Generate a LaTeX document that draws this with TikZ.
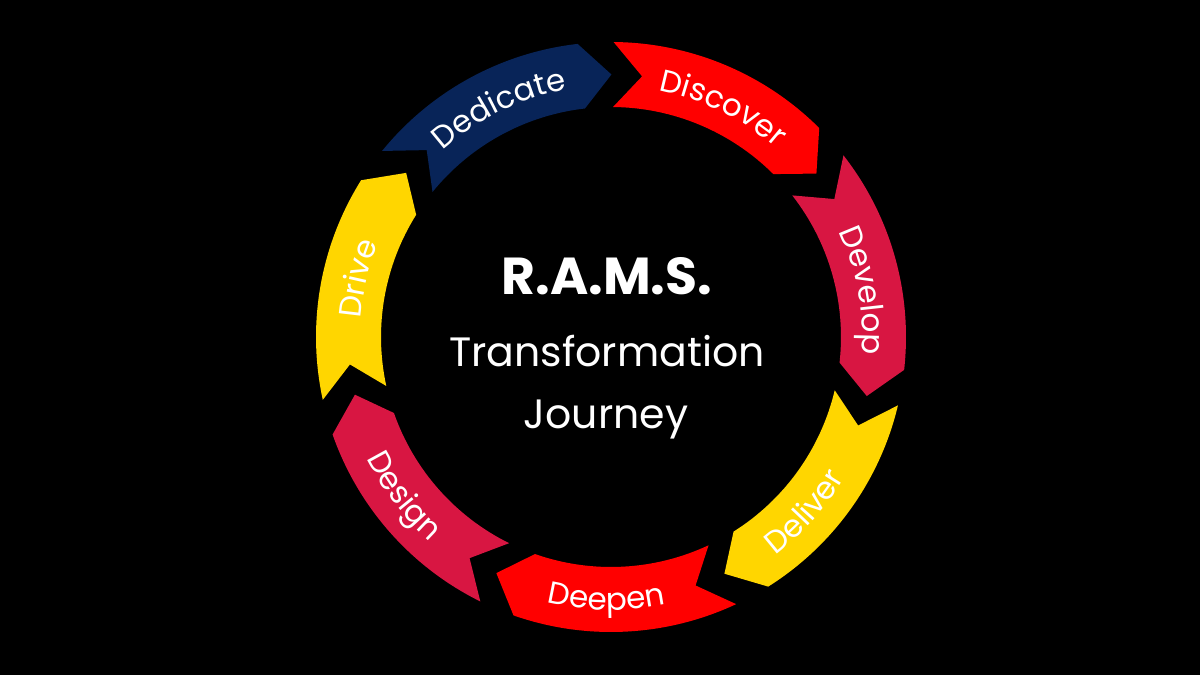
\documentclass[tikz,border=0pt]{standalone}
\usepackage{fontspec}
\setmainfont{Poppins}
\usetikzlibrary{decorations.text}
\definecolor{navyseg}{RGB}{8,36,88}
\definecolor{redseg}{RGB}{255,0,0}
\definecolor{crimsonseg}{RGB}{216,22,66}
\definecolor{goldseg}{RGB}{255,214,0}
\newcommand\labelfont{\fontsize{31}{32}\selectfont}
\newcommand\ringseg[2]{%
  \pgfmathsetmacro\fa{#1-44.4}%
  \pgfmathsetmacro\ta{#1-51}%
  \pgfmathsetmacro\na{#1-6.3}%
  \fill[#2] (#1:295pt) arc[start angle=#1,end angle=\fa,radius=295pt]
    -- (\ta:262.5pt) -- (\fa:230pt)
    arc[start angle=\fa,end angle=#1,radius=230pt]
    -- (\na:262.5pt) -- cycle;}
\newcommand\cwlabel[2]{%
  \pgfmathsetmacro\sa{#1+40}%
  \pgfmathsetmacro\ea{#1-40}%
  \path[decorate,decoration={text along path,text align=center,text color=white,
    text={|\labelfont|#2}}] (\sa:251pt) arc[start angle=\sa,end angle=\ea,radius=251pt];}
\newcommand\ccwlabel[2]{%
  \pgfmathsetmacro\sa{#1-40}%
  \pgfmathsetmacro\ea{#1+40}%
  \path[decorate,decoration={text along path,text align=center,text color=white,
    text={|\labelfont|#2}}] (\sa:273pt) arc[start angle=\sa,end angle=\ea,radius=273pt];}
\begin{document}
\begin{tikzpicture}[x=1pt,y=1pt,
  titletext/.style={text=white,inner sep=0pt,anchor=base}]
\fill[black] (0,0) rectangle (1200,675);
\useasboundingbox (0,0) rectangle (1200,675);
\begin{scope}[shift={(611,338)}]
  \ringseg{140.9}{navyseg}
  \ringseg{89.5}{redseg}
  \ringseg{38.0}{crimsonseg}
  \ringseg{-13.4}{goldseg}
  \ringseg{-64.9}{redseg}
  \ringseg{-116.3}{crimsonseg}
  \ringseg{-167.7}{goldseg}
  \cwlabel{116}{Dedicate}
  \cwlabel{64}{Discover}
  \cwlabel{10.5}{Develop}
  \ccwlabel{-42}{Deliver}
  \ccwlabel{-91}{Deepen}
  \ccwlabel{-142.5}{Design}
  \cwlabel{167}{Drive}
\end{scope}
\node[titletext,font=\fontsize{52}{55}\selectfont\bfseries] (title) at (607,380) {R.A.M.S.};
\node[titletext,font=\fontsize{41}{44}\selectfont] (sub1) at (607,308) {Transformation};
\node[titletext,font=\fontsize{41}{44}\selectfont] (sub2) at (606,246) {Journey};
\end{tikzpicture}
\end{document}
